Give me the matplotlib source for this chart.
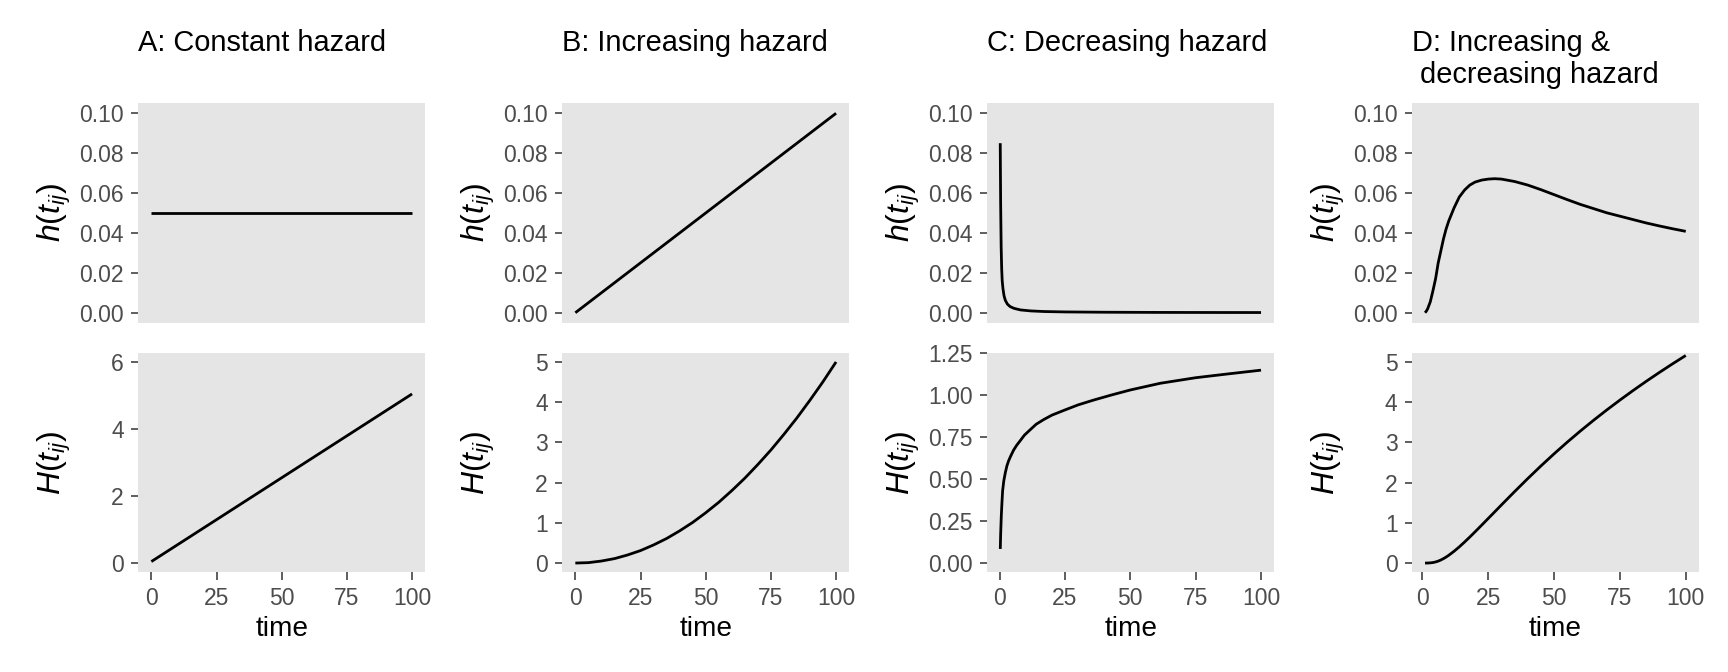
import matplotlib
matplotlib.use("Agg")
import matplotlib.pyplot as plt

# ===============================
# Fonts / style
# ===============================
plt.rcParams["font.family"] = ["Liberation Sans", "DejaVu Sans"]
plt.rcParams["mathtext.fontset"] = "custom"
plt.rcParams["mathtext.rm"] = "Liberation Sans"
plt.rcParams["mathtext.it"] = "Liberation Sans:italic"

PANEL_BG = "#E5E5E5"
TICK_COLOR = "#333333"
TICK_LABEL_COLOR = "#4D4D4D"

# ===============================
# Data
# ===============================
# A: constant hazard
time_a = [0, 100]
haz_a = [0.05, 0.05]
cum_a = [0.05, 5.05]

# B: increasing hazard
time_b_haz = [0, 100]
haz_b = [0.0, 0.1]
time_b = [0, 5, 10, 15, 20, 25, 30, 35, 40, 45, 50,
          55, 60, 65, 70, 75, 80, 85, 90, 95, 100]
cum_b = [0.0, 0.01, 0.05, 0.11, 0.2, 0.31, 0.45, 0.61, 0.8, 1.01, 1.25,
         1.51, 1.8, 2.11, 2.45, 2.81, 3.2, 3.61, 4.05, 4.51, 5.0]

# C: decreasing hazard
time_c_haz = [0.25, 0.4, 0.6, 0.8, 1.0, 1.3, 1.7, 2.2, 3, 4, 5.5,
              8, 12, 17, 25, 40, 60, 80, 100]
haz_c = [0.085, 0.055, 0.033, 0.022, 0.016, 0.012, 0.0085, 0.0062, 0.0043,
         0.0031, 0.0022, 0.0014, 0.0009, 0.0006, 0.0004, 0.00025, 0.00016,
         0.00012, 0.0001]
time_c = [0.27, 0.4, 0.65, 0.9, 1.15, 1.6, 2.2, 2.8, 3.45, 4.3, 5.4, 6.6,
          7.9, 9.5, 11.7, 14, 16.8, 20, 25, 30, 36, 43, 50, 61.5, 75, 87, 100]
cum_c = [0.085, 0.17, 0.28, 0.36, 0.43, 0.49, 0.54, 0.58, 0.61, 0.64, 0.675,
         0.704, 0.73, 0.763, 0.795, 0.828, 0.855, 0.882, 0.913, 0.943,
         0.972, 1.003, 1.032, 1.072, 1.105, 1.127, 1.15]

# D: increasing & decreasing hazard
time_d = [1, 1.5, 2, 3, 4, 5, 6, 7, 8, 9, 10, 12, 14, 16, 18, 20, 22.5, 25,
          27.5, 30, 35, 40, 45, 50, 55, 60, 65, 70, 75, 80, 85, 90, 95, 100]
haz_d = [0.0, 0.0008, 0.002, 0.0055, 0.011, 0.017, 0.025, 0.031, 0.037,
         0.042, 0.046, 0.0525, 0.058, 0.0615, 0.064, 0.0655, 0.0665, 0.067,
         0.0672, 0.067, 0.0658, 0.064, 0.0617, 0.0592, 0.0567, 0.0543, 0.0522,
         0.0501, 0.0484, 0.0467, 0.045, 0.0435, 0.0421, 0.0408]
cum_d = [0.0, 0.0003, 0.001, 0.0047, 0.0129, 0.027, 0.048, 0.076, 0.11,
         0.149, 0.193, 0.292, 0.402, 0.522, 0.647, 0.777, 0.942, 1.109, 1.276,
         1.444, 1.776, 2.1, 2.414, 2.716, 3.006, 3.284, 3.55, 3.806, 4.052,
         4.29, 4.519, 4.74, 4.954, 5.161]

titles = [["A: Constant hazard"], ["B: Increasing hazard"],
          ["C: Decreasing hazard"], ["D: Increasing &", " decreasing hazard"]]

haz_series = [(time_a, haz_a), (time_b_haz, haz_b),
              (time_c_haz, haz_c), (time_d, haz_d)]
cum_series = [(time_a, cum_a), (time_b, cum_b),
              (time_c, cum_c), (time_d, cum_d)]

x_limits = [(-5, 105), (-5, 105), (-4.7, 105), (-3.95, 104.95)]
cum_limits = [(-0.27, 6.28), (-0.23, 5.23), (-0.054, 1.254), (-0.23, 5.23)]
cum_ticks = [[0, 2, 4, 6], [0, 1, 2, 3, 4, 5],
             [0, 0.25, 0.5, 0.75, 1.0, 1.25], [0, 1, 2, 3, 4, 5]]
cum_tick_labels = [["0", "2", "4", "6"], ["0", "1", "2", "3", "4", "5"],
                   ["0.00", "0.25", "0.50", "0.75", "1.00", "1.25"],
                   ["0", "1", "2", "3", "4", "5"]]
haz_ticks = [0, 0.02, 0.04, 0.06, 0.08, 0.10]
haz_tick_labels = ["0.00", "0.02", "0.04", "0.06", "0.08", "0.10"]
time_ticks = [0, 25, 50, 75, 100]

# ===============================
# Layout (pixel positions of the panels)
# ===============================
W, H = 1728, 672
fig = plt.figure(figsize=(W / 100, H / 100), dpi=100)

col_left = [138.3, 562.3, 987.3, 1412.0]
panel_w = 286.8
top_row = (103.3, 322.7)
bot_row = (352.7, 572.3)
row_h = top_row[1] - top_row[0]

TITLE_BASELINE = 50.5
TITLE_LINE_STEP = 32.5
YLAB_RIGHT = 65


def make_axes(left, row):
    top, bottom = row
    return fig.add_axes([left / W, 1 - bottom / H,
                         panel_w / W, (bottom - top) / H])


def style_axes(ax):
    ax.set_facecolor(PANEL_BG)
    for s in ax.spines.values():
        s.set_visible(False)
    ax.tick_params(axis="both", length=5.4, width=1.1, color=TICK_COLOR,
                   labelcolor=TICK_LABEL_COLOR, labelsize=16.5)
    ax.tick_params(axis="y", pad=5.0)
    ax.tick_params(axis="x", pad=5.5)


for i in range(4):
    # ---- hazard (top row)
    ax = make_axes(col_left[i], top_row)
    style_axes(ax)
    t, h = haz_series[i]
    ax.plot(t, h, color="black", linewidth=2.0, solid_capstyle="butt")
    ax.set_xlim(*x_limits[i])
    ax.set_ylim(-0.005, 0.105)
    ax.set_yticks(haz_ticks)
    ax.set_yticklabels(haz_tick_labels)
    ax.set_xticks([])
    ax.set_ylabel(r"$h(t_{ij})$", fontsize=23, color="black")
    ax.yaxis.set_label_coords(-YLAB_RIGHT / panel_w, 0.5)
    for k, line in enumerate(titles[i]):
        y_px = TITLE_BASELINE + k * TITLE_LINE_STEP
        ax.text(0, 1 + (top_row[0] - y_px) / row_h, line,
                transform=ax.transAxes, ha="left", va="baseline",
                fontsize=20.9, color="black")

    # ---- cumulative hazard (bottom row)
    ax = make_axes(col_left[i], bot_row)
    style_axes(ax)
    t, c = cum_series[i]
    ax.plot(t, c, color="black", linewidth=2.0, solid_capstyle="butt")
    ax.set_xlim(*x_limits[i])
    ax.set_ylim(*cum_limits[i])
    ax.set_yticks(cum_ticks[i])
    ax.set_yticklabels(cum_tick_labels[i])
    ax.set_xticks(time_ticks)
    ax.set_xticklabels([str(v) for v in time_ticks])
    ax.set_ylabel(r"$H(t_{ij})$", fontsize=23, color="black")
    ax.yaxis.set_label_coords(-YLAB_RIGHT / panel_w, 0.5)
    ax.set_xlabel("time", fontsize=20.2, color="black")
    ax.xaxis.set_label_coords(0.5, -(616 - bot_row[1]) / (bot_row[1] - bot_row[0]))

fig.savefig("out.png", dpi=100)
